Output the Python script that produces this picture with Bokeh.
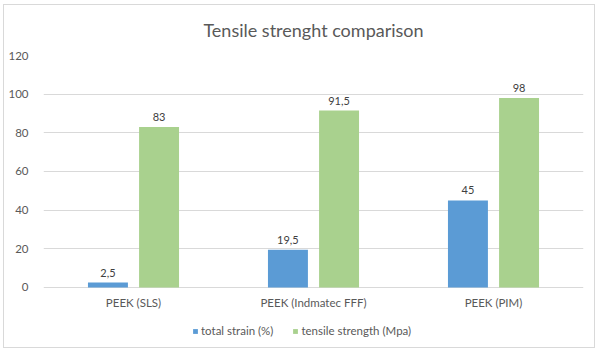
from bokeh.plotting import figure
from bokeh.models import ColumnDataSource, FactorRange, Range1d, LabelSet, Legend, LegendItem
from bokeh.transform import dodge
from bokeh.core.properties import value
from bokeh.embed import file_html
from bokeh.resources import INLINE

categories = ["PEEK (SLS)", "PEEK (Indmatec FFF)", "PEEK (PIM)"]
total_strain = [2.5, 19.5, 45]
tensile_strength = [83, 91.5, 98]
series_names = ["total strain (%)", "tensile strength (Mpa)"]
y_ticks = [0, 20, 40, 60, 80, 100, 120]


def fmt(v):
    s = ("%g" % v)
    return s.replace(".", ",")


src = ColumnDataSource(dict(
    cat=categories,
    strain=total_strain,
    tensile=tensile_strength,
    strain_lbl=[fmt(v) for v in total_strain],
    tensile_lbl=[fmt(v) for v in tensile_strength],
))

FONT = "Lato"
GREY = "#595959"

# y range extends below 0 so the category labels and legend sit inside the frame
p = figure(width=592, height=344, output_backend="svg", toolbar_location=None,
           x_range=FactorRange(factors=categories, range_padding=0),
           y_range=Range1d(-32.1, 120), x_axis_location=None,
           title="Tensile strenght comparison",
           min_border_left=39, min_border_right=13, min_border_top=49, min_border_bottom=0)
p.margin = (4, 4, 4, 3)
p.styles = {"border": "1px solid #d9d9d9"}

p.title.align = "center"
p.title.vertical_align = "top"
p.title.text_font = FONT
p.title.text_font_size = "18px"
p.title.text_font_style = "normal"
p.title.text_color = GREY
p.title.standoff = 26

off = 0.142
w = 0.222
b1 = p.vbar(x=dodge("cat", -off, range=p.x_range), top="strain", width=w, source=src,
            fill_color="#5B9BD5", line_color=None)
b2 = p.vbar(x=dodge("cat", off, range=p.x_range), top="tensile", width=w, source=src,
            fill_color="#A9D18E", line_color=None)

for xcol, ycol, tcol in [(-off, "strain", "strain_lbl"), (off, "tensile", "tensile_lbl")]:
    p.add_layout(LabelSet(x=dodge("cat", xcol, range=p.x_range), y=ycol, text=tcol, source=src,
                          text_align="center", text_baseline="bottom", y_offset=6,
                          text_font=value(FONT), text_font_size="11px", text_color="#404040"))

# category labels under the baseline
p.add_layout(LabelSet(x="cat", y=0, text="cat", source=src,
                      text_align="center", text_baseline="top", y_offset=-9,
                      text_font=value(FONT), text_font_size="11.5px", text_color=GREY))

p.yaxis.ticker = y_ticks
p.yaxis.axis_line_color = None
p.yaxis.major_tick_line_color = None
p.yaxis.minor_tick_line_color = None
p.yaxis.major_label_standoff = 9
p.yaxis.major_label_text_font = FONT
p.yaxis.major_label_text_font_size = "11.5px"
p.yaxis.major_label_text_color = GREY

p.xgrid.grid_line_color = None
p.ygrid.grid_line_color = "#d9d9d9"
p.outline_line_color = None

legend = Legend(items=[LegendItem(label=series_names[0], renderers=[b1]),
                       LegendItem(label=series_names[1], renderers=[b2])],
                orientation="horizontal", location=(149, 12),
                glyph_width=6, glyph_height=6, spacing=19, label_standoff=3,
                label_text_font=FONT, label_text_font_size="11.5px", label_text_color=GREY,
                border_line_color=None, background_fill_alpha=0, padding=0, margin=0)
p.add_layout(legend)

open("out.html", "w").write(file_html(p, INLINE))
